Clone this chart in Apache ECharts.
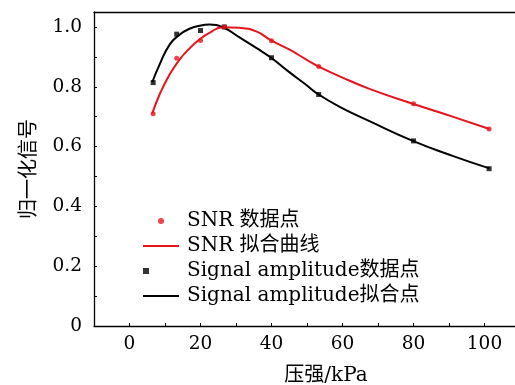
<!DOCTYPE html>
<html>
<head>
<meta charset="utf-8">
<script src="https://cdn.jsdelivr.net/npm/echarts@6/dist/echarts.min.js"></script>
<style>
  html, body { margin: 0; padding: 0; background: #fff; }
  #chart { width: 515px; height: 385px; }
</style>
</head>
<body>
<div id="chart"></div>
<script>
// measured points (kPa)
const pressure = [6.67, 13.3, 20, 26.7, 40, 53.3, 80, 101.3];
const snrPoints = [0.71, 0.895, 0.955, 1.0, 0.954, 0.868, 0.743, 0.659];
const ampPoints = [0.814, 0.976, 0.988, 1.0, 0.897, 0.774, 0.619, 0.526];

// fitted curves
const fitPressure = [6.4, 8.5, 11.3, 14.1, 16.9, 19.7, 22.5, 26.3, 31, 35.7, 39.9, 45.1, 49.8, 53.3, 59.2, 67.6, 79.8, 91, 101.4];
const snrFit = [0.71, 0.775, 0.841, 0.891, 0.928, 0.958, 0.98, 0.999, 0.997, 0.985, 0.955, 0.924, 0.891, 0.867, 0.835, 0.793, 0.743, 0.70, 0.659];
const ampFit = [0.815, 0.875, 0.941, 0.974, 0.994, 1.004, 1.008, 0.999, 0.965, 0.93, 0.897, 0.848, 0.806, 0.774, 0.733, 0.685, 0.619, 0.569, 0.527];

const xTickLabels = [0, 20, 40, 60, 80, 100];
const xTicks = [0, 10, 20, 30, 40, 50, 60, 70, 80, 90, 100];
const yTickLabels = [0, 0.2, 0.4, 0.6, 0.8, 1.0];
const yTicks = [0, 0.1, 0.2, 0.3, 0.4, 0.5, 0.6, 0.7, 0.8, 0.9, 1.0];

const legendNames = ['SNR 数据点', 'SNR 拟合曲线', 'Signal amplitude数据点', 'Signal amplitude拟合点'];

const RED = '#e8141b';
const FONT = '"DejaVu Serif", "Noto Sans CJK SC", serif';

const pair = (xs, ys) => xs.map((x, i) => [x, ys[i]]);

const chart = echarts.init(document.getElementById('chart'));

const option = {
  backgroundColor: '#fff',
  animation: false,
  textStyle: { fontFamily: FONT, color: '#000' },
  grid: { left: 94, right: -5, top: 12, bottom: 59, outerBoundsMode: 'none' },
  legend: {
    orient: 'vertical',
    left: 137,
    top: 206,
    itemWidth: 36,
    itemHeight: 6,
    itemGap: 5,
    data: [
      { name: legendNames[0] },
      { name: legendNames[1], itemStyle: { color: 'rgba(0,0,0,0)' }, lineStyle: { color: RED, width: 2 } },
      { name: legendNames[2] },
      { name: legendNames[3], itemStyle: { color: 'rgba(0,0,0,0)' }, lineStyle: { color: '#000', width: 2 } }
    ],
    textStyle: { fontFamily: FONT, fontSize: 20, color: '#000', lineHeight: 20, padding: [0, 0, 0, 3] }
  },
  xAxis: [
    {
      type: 'value',
      min: -10,
      max: 110,
      interval: 10,
      name: '压强/kPa',
      nameLocation: 'middle',
      nameGap: 40,
      nameTextStyle: { fontFamily: FONT, fontSize: 20, color: '#000', padding: [0, 0, 0, 38] },
      axisLine: { onZero: false, lineStyle: { color: '#000', width: 1.3 } },
      axisTick: { inside: true, length: 3, customValues: xTicks, lineStyle: { color: '#000' } },
      axisLabel: { customValues: xTickLabels, fontSize: 18.5, color: '#000', margin: 9, fontFamily: FONT },
      splitLine: { show: false }
    },
    {
      type: 'value',
      position: 'top',
      min: -10,
      max: 110,
      axisLine: { show: true, onZero: false, lineStyle: { color: '#000', width: 1.3 } },
      axisTick: { show: false },
      axisLabel: { show: false },
      splitLine: { show: false }
    }
  ],
  yAxis: {
    type: 'value',
    min: 0,
    max: 1.05,
    interval: 0.1,
    name: '归一化信号',
    nameLocation: 'middle',
    nameGap: 54,
    nameTextStyle: { fontFamily: FONT, fontSize: 20, color: '#000' },
    axisLine: { show: true, onZero: false, lineStyle: { color: '#000', width: 1.3 } },
    axisTick: { show: true, inside: true, length: 3, customValues: yTicks, lineStyle: { color: '#000' } },
    axisLabel: {
      customValues: yTickLabels,
      fontSize: 18.5,
      color: '#000',
      margin: 12,
      fontFamily: FONT,
      formatter: (v) => (v === 0 ? '0' : v.toFixed(1))
    },
    splitLine: { show: false }
  },
  series: [
    {
      name: legendNames[1],
      type: 'line',
      smooth: true,
      symbol: 'none',
      data: pair(fitPressure, snrFit),
      lineStyle: { color: RED, width: 2 },
      itemStyle: { color: RED },
      z: 3
    },
    {
      name: legendNames[3],
      type: 'line',
      smooth: true,
      symbol: 'none',
      data: pair(fitPressure, ampFit),
      lineStyle: { color: '#000', width: 2 },
      itemStyle: { color: '#000' },
      z: 2
    },
    {
      name: legendNames[2],
      type: 'scatter',
      symbol: 'square',
      symbolSize: 5,
      data: pair(pressure, ampPoints),
      itemStyle: { color: '#000' },
      z: 4
    },
    {
      name: legendNames[0],
      type: 'scatter',
      symbol: 'circle',
      symbolSize: 5,
      data: pair(pressure, snrPoints),
      itemStyle: { color: RED },
      z: 5
    }
  ]
};

chart.setOption(option);
</script>
</body>
</html>
